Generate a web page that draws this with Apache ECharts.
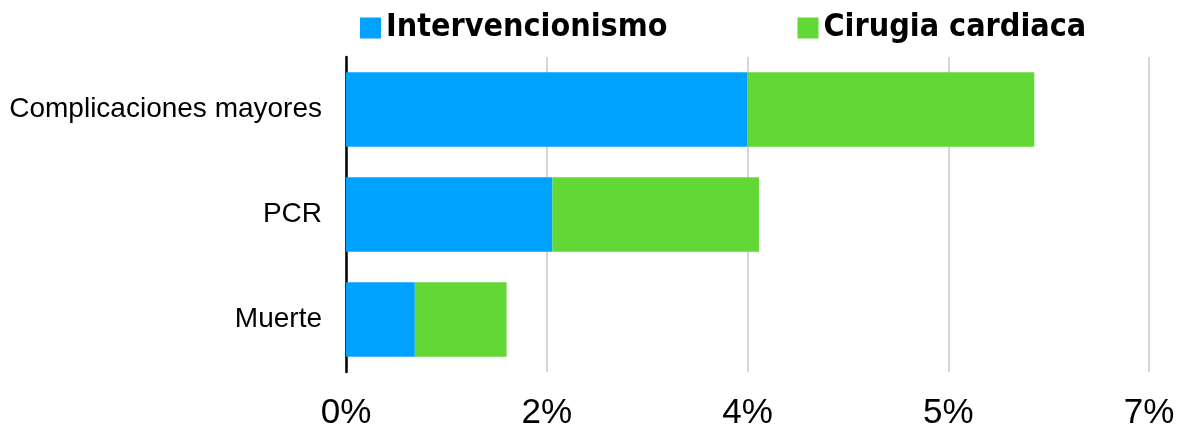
<!DOCTYPE html>
<html lang="es">
<head>
    <meta charset="UTF-8">
    <title>Complicaciones</title>
    <script src="https://cdn.jsdelivr.net/npm/echarts@6/dist/echarts.min.js"></script>
    <style type="text/css">
        html, body { margin:0; padding:0; background:#fff; }
        #main{ width:1200px; height:439px; }
    </style>
</head>
<body>
<div id="main"></div>
<script type="application/javascript">
    // data (percent)
    var categories = ['Muerte', 'PCR', 'Complicaciones mayores'];
    var intervencionismo = [0.6, 1.8, 3.5];
    var cirugia = [0.8, 1.8, 2.5];
    var xTickLabels = ['0%', '2%', '4%', '5%', '7%'];

    var myChart = echarts.init(document.getElementById('main'));

    myChart.setOption({
        animation:false,
        textStyle:{ fontFamily:'Liberation Sans' },
        legend:{
            top:7,
            left:355,
            itemGap:130,
            itemWidth:21,
            itemHeight:21,
            icon:'rect',
            textStyle:{
                fontFamily:'Liberation Sans Narrow, DejaVu Sans Condensed, sans-serif',
                fontWeight:'bold',
                fontSize:32,
                color:'#000'
            },
            data:['Intervencionismo', 'Cirugia cardiaca']
        },
        grid:{ left:346, right:51, top:57, bottom:67 },
        xAxis:{
            type:'value',
            min:0,
            max:7,
            interval:1.75,
            axisLine:{ show:false },
            axisTick:{ show:false },
            splitLine:{ lineStyle:{ color:'#c8c8c8', width:1.5 } },
            axisLabel:{
                fontSize:35,
                color:'#000',
                margin:24,
                formatter:function (v) {
                    return xTickLabels[Math.round(v / 1.75)];
                }
            }
        },
        yAxis:{
            type:'category',
            data:categories,
            axisLine:{ lineStyle:{ color:'#000', width:2.5 } },
            axisTick:{ show:false },
            axisLabel:{ fontSize:28, color:'#000', margin:24 }
        },
        series:[{
            name:'Intervencionismo',
            type:'bar',
            stack:'total',
            barCategoryGap:'29%',
            itemStyle:{ color:'#00A2FF' },
            data:intervencionismo
        },{
            name:'Cirugia cardiaca',
            type:'bar',
            stack:'total',
            itemStyle:{ color:'#61D836' },
            data:cirugia
        }]
    });
</script>
</body>
</html>
